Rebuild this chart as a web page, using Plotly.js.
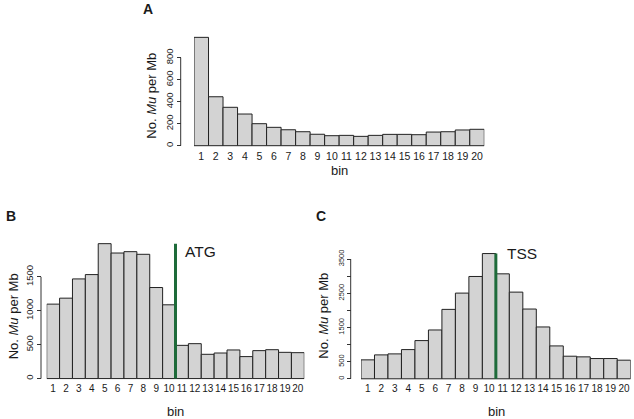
<!DOCTYPE html>
<html>
<head>
<meta charset="utf-8">
<script src="https://cdn.plot.ly/plotly-3.0.1.min.js"></script>
<style>html,body{margin:0;padding:0;background:#fff}#chart{width:634px;height:419px}</style>
</head>
<body>
<div id="chart"></div>
<script>
// ---- data ----
var bins = [1,2,3,4,5,6,7,8,9,10,11,12,13,14,15,16,17,18,19,20];
var binLabels = ["1","2","3","4","5","6","7","8","9","10","11","12","13","14","15","16","17","18","19","20"];
var valuesA = [985, 445, 349, 288, 200, 167, 145, 127, 104, 91, 94, 85, 94, 103, 103, 100, 124, 127, 143, 149];
var valuesB = [1098, 1186, 1470, 1534, 1990, 1852, 1872, 1833, 1343, 1088, 490, 515, 358, 377, 422, 324, 412, 426, 387, 382];
var valuesC = [553, 699, 728, 854, 1117, 1427, 2029, 2505, 2991, 3661, 3068, 2534, 2039, 1515, 961, 660, 641, 592, 592, 544];
var ticksA = [0, 200, 400, 600, 800];
var tickTextA = ["0", "200", "400", "600", "800"];
var ticksB = [0, 500, 1000, 1500];
var tickTextB = ["0", "500", "1000", "1500"];
var ticksC = [0, 500, 1000, 1500, 2000, 2500, 3000, 3500];
var tickTextC = ["0", "500", "", "1500", "", "2500", "", "3500"];
var markerB = {pos: 10.5, label: "ATG"};
var markerC = {pos: 10.5, label: "TSS"};

// ---- layout helpers ----
var W = 634, H = 419;
function fx(px){ return px / W; }
function fy(py){ return 1 - py / H; }
var FONT = "Liberation Sans, Arial, Helvetica, sans-serif";
var INK = "#1a1a1a";
var GREEN = "#1e6b3a";

function barTrace(vals, xa, ya){
  return {type:"bar", x:bins, y:vals, width:1, xaxis:xa, yaxis:ya,
    marker:{color:"#d3d3d3", line:{color:"#222", width:1}}, hoverinfo:"skip", showlegend:false};
}
function vline(m, vals, xa, ya){
  return {type:"scatter", mode:"lines", x:[m.pos, m.pos], y:[0, Math.max.apply(null, vals)],
    xaxis:xa, yaxis:ya, line:{color:GREEN, width:3}, hoverinfo:"skip", showlegend:false};
}
function xax(left, right, fs){
  return {domain:[fx(left), fx(right)], range:[0.5, 20.5], showgrid:false, zeroline:false, showline:false,
    tickmode:"array", tickvals:bins, ticktext:binLabels, ticks:"", tickangle:0,
    tickfont:{size:fs, color:INK, family:FONT}, fixedrange:true};
}
function yax(bottomPy, topPy, range, pos, tv, tt, fs){
  return {domain:[fy(bottomPy), fy(topPy)], range:range, anchor:"free", position:fx(pos),
    showgrid:false, zeroline:false, showline:false, tickmode:"array", tickvals:tv, ticktext:tt,
    ticks:"outside", ticklen:4, tickwidth:1, tickcolor:"#333", tickangle:-90,
    tickfont:{size:fs, color:INK, family:FONT}, fixedrange:true};
}

var traces = [
  barTrace(valuesA, "x", "y"),
  barTrace(valuesB, "x2", "y2"),
  vline(markerB, valuesB, "x2", "y2"),
  barTrace(valuesC, "x3", "y3"),
  vline(markerC, valuesC, "x3", "y3")
];

// axis-line shapes spanning first to last tick (R style)
function axisLine(pos, yref, tv){
  return {type:"line", xref:"paper", yref:yref, x0:fx(pos), x1:fx(pos), y0:tv[0], y1:tv[tv.length-1],
    line:{color:"#333", width:1}};
}

function ann(text, px, py, size, opts){
  var a = {text:text, xref:"paper", yref:"paper", x:fx(px), y:fy(py), showarrow:false,
    font:{size:size, color:INK, family:FONT}, xanchor:"center", yanchor:"middle"};
  for (var k in (opts||{})) a[k] = opts[k];
  return a;
}
var ytitle = "No. <i>Mu</i> per Mb";

var layout = {
  width:W, height:H, margin:{l:0, r:0, t:0, b:0}, paper_bgcolor:"#fff", plot_bgcolor:"rgba(0,0,0,0)",
  bargap:0, showlegend:false, font:{family:FONT, color:INK},
  xaxis: Object.assign(xax(194, 484.3, 10.5), {anchor:"y"}),
  yaxis: yax(148.45, 35.7, [-25, 1000], 180.7, ticksA, tickTextA, 9.5),
  xaxis2: Object.assign(xax(46.7, 304.3, 10), {anchor:"y2"}),
  yaxis2: yax(380.6, 239.6, [-30, 2050], 41, ticksB, tickTextB, 9.5),
  xaxis3: Object.assign(xax(361, 630.7, 10), {anchor:"y3"}),
  yaxis3: yax(380.5, 248.8, [-50, 3800], 350.7, ticksC, tickTextC, 7.5),
  shapes: [
    axisLine(180.7, "y", ticksA),
    axisLine(41, "y2", ticksB),
    axisLine(350.7, "y3", ticksC)
  ],
  annotations: [
    ann("<b>A</b>", 148, 9, 14),
    ann("<b>B</b>", 11, 216, 14),
    ann("<b>C</b>", 321, 216, 14),
    ann(ytitle, 151.7, 96, 13, {textangle:-90}),
    ann(ytitle, 13.3, 316, 13, {textangle:-90}),
    ann(ytitle, 322.7, 316, 13, {textangle:-90}),
    ann("bin", 339, 170, 13),
    ann("bin", 175.5, 411.7, 13),
    ann("bin", 496, 411.7, 13),
    ann(markerB.label, 183, 251, 15.5, {xanchor:"left"}),
    ann(markerC.label, 505, 253, 15.5, {xanchor:"left"})
  ]
};

Plotly.newPlot("chart", traces, layout, {staticPlot:true, displayModeBar:false});
</script>
</body>
</html>
